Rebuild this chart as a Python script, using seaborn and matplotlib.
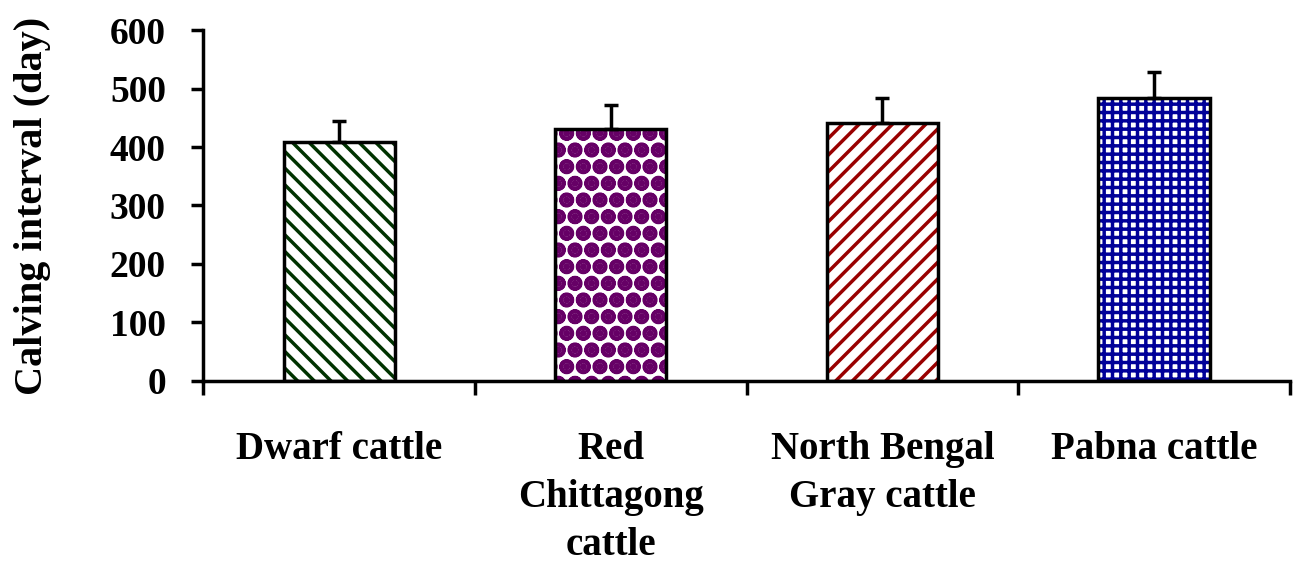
import numpy as np
import pandas as pd
import matplotlib
matplotlib.use('Agg')
import matplotlib.pyplot as plt
import seaborn as sns

# --- Dados ---
racas = ['Dwarf cattle', 'Red\nChittagong\ncattle', 'North Bengal\nGray cattle', 'Pabna cattle']
intervalo = [409, 430, 441, 484]
erro = [36, 42, 42, 45]
cores = ['#003300', '#660066', '#990000', '#000099']
hachuras = ['\\\\', 'O.', '//', '++']

sns.set_theme(style='ticks')
plt.rcParams['font.family'] = ['Liberation Serif', 'DejaVu Serif']
plt.rcParams['font.weight'] = 'bold'
plt.rcParams['text.color'] = 'black'
plt.rcParams['axes.labelcolor'] = 'black'
plt.rcParams['xtick.color'] = 'black'
plt.rcParams['ytick.color'] = 'black'
plt.rcParams['hatch.linewidth'] = 2.5

df = pd.DataFrame({'raca': racas, 'intervalo': intervalo})

fig = plt.figure(figsize=(13.04, 5.78), dpi=100)
ax = fig.add_axes([0.156, 0.341, 0.833, 0.607])

# barras com hachura colorida
sns.barplot(data=df, x='raca', y='intervalo', ax=ax, width=0.41,
            color='white', edgecolor='black', linewidth=0, errorbar=None)
for barra, cor, h in zip(ax.patches, cores, hachuras):
    barra.set_hatch(h)
    barra.set_edgecolor(cor)
    barra.set_facecolor('white')

# contorno preto por cima
sns.barplot(data=df, x='raca', y='intervalo', ax=ax, width=0.41,
            fill=False, edgecolor='black', linewidth=2.5, errorbar=None)

# barras de erro (somente superior)
ax.errorbar(np.arange(len(racas)), intervalo, yerr=[np.zeros(len(erro)), erro],
            fmt='none', ecolor='black', elinewidth=2.5, capsize=5, capthick=2.5)

ax.set_ylim(0, 600)
ax.set_xlim(-0.5, 3.5)
ax.set_yticks(range(0, 601, 100))
ax.set_xlabel('')
ax.set_ylabel('Calving interval (day)', fontsize=29, fontweight='bold', labelpad=42)

ax.set_xticks(np.arange(-0.5, 4, 1), minor=True)
ax.tick_params(axis='x', which='major', bottom=True, length=0, pad=36)
ax.tick_params(axis='x', which='minor', bottom=True, length=10, width=2.5, direction='out')
ax.tick_params(axis='y', left=True, length=9, width=2.5, direction='out', pad=18)
for lab in ax.get_xticklabels():
    lab.set_fontsize(28)
    lab.set_fontweight('bold')
    lab.set_linespacing(1.4)
    lab.set_verticalalignment('top')
for lab in ax.get_yticklabels():
    lab.set_fontsize(27)
    lab.set_fontweight('bold')

sns.despine(ax=ax)
for s in ['left', 'bottom']:
    ax.spines[s].set_linewidth(2.5)
    ax.spines[s].set_color('black')

fig.savefig('out.png', dpi=100)
